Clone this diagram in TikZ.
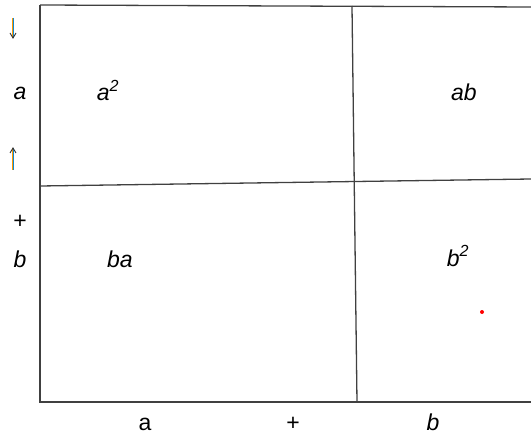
\documentclass[tikz,border=0pt]{standalone}
\usepackage{fontspec}
\setmainfont{Liberation Sans}
\begin{document}
\begin{tikzpicture}[x=1pt,y=-1pt,
  gridline/.style={draw=black!75, line width=1.3pt},
  lbl/.style={font=\fontsize{23}{27}\selectfont\itshape, inner sep=0pt, anchor=base},
  ulbl/.style={font=\fontsize{23}{27}\selectfont, inner sep=0pt, anchor=base},
  arrshaft/.style={line width=1pt}
]
\useasboundingbox (0,0) rectangle (531,436);
% frame coordinates
\coordinate (tl) at (40,5);
\coordinate (tr) at (531,7);
\coordinate (bl) at (40,402);
\coordinate (br) at (531,402);
\coordinate (vt) at (352,6);
\coordinate (vb) at (357,402);
\coordinate (hl) at (40,186);
\coordinate (hr) at (531,179);
\draw[gridline] (tl) -- (tr);
\draw[gridline] (tl) -- (bl) -- (br);
\draw[gridline] (vt) -- (vb);
\draw[gridline] (hl) -- (hr);
% inner labels
\node[lbl] (a2) at (108,101) {a\textsuperscript{2}};
\node[lbl] (ab) at (464,101) {ab};
\node[lbl] (ba) at (120,267) {ba};
\node[lbl] (b2) at (458,266) {b\textsuperscript{2}};
\fill[red] (482,312) circle (2);
% left labels
\node[lbl] (la) at (20,100) {a};
\node[ulbl] (lplus) at (20,228) {+};
\node[lbl] (lb) at (20,267) {b};
% arrows
\coordinate (d1) at (13,18);
\coordinate (d2) at (13,38);
\coordinate (u1) at (13,170);
\coordinate (u2) at (13,148);
\draw[arrshaft, draw=orange!80!yellow] ([xshift=-0.5]d1) -- ([xshift=-0.5]d2);
\draw[arrshaft, draw=cyan!70!blue] ([xshift=0.7]d1) -- ([xshift=0.7]d2);
\draw[line width=0.9pt, black!80] (10,33) -- (d2) -- (16,33);
\draw[arrshaft, draw=orange!80!yellow] ([xshift=-0.5]u1) -- ([xshift=-0.5]u2);
\draw[arrshaft, draw=cyan!70!blue] ([xshift=0.7]u1) -- ([xshift=0.7]u2);
\draw[line width=0.9pt, black!80] (10,153) -- (u2) -- (16,153);
% bottom labels
\node[ulbl] (ba1) at (145,430) {a};
\node[ulbl] (bplus) at (293,430) {+};
\node[lbl] (bb) at (433,430) {b};
\end{tikzpicture}
\end{document}
